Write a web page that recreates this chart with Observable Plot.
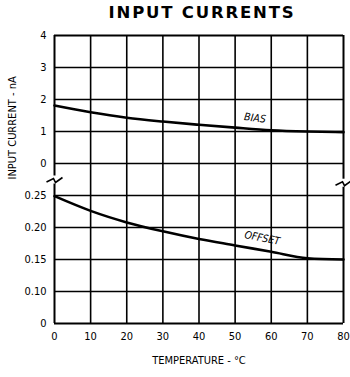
<!DOCTYPE html>
<html><head><meta charset="utf-8">
<script src="https://cdn.jsdelivr.net/npm/d3@7"></script>
<script src="https://cdn.jsdelivr.net/npm/@observablehq/plot@0.6"></script>
<style>
html,body{margin:0;padding:0;background:#fff;}
body{width:350px;height:377px;overflow:hidden;}
#title{height:26px;box-sizing:border-box;padding-top:4px;line-height:18px;text-align:center;font-family:"DejaVu Sans";font-weight:bold;font-size:16.5px;letter-spacing:1.8px;padding-left:54px;color:#000;white-space:nowrap;}
#chart svg{display:block;}
</style></head><body>
<div id="title">INPUT CURRENTS</div>
<div id="chart"></div>
<script>
// Data
const temperature = [0, 10, 20, 30, 40, 50, 60, 70, 80];
const biasCurrent = [1.81, 1.60, 1.43, 1.31, 1.21, 1.12, 1.04, 1.00, 0.98];      // nA, upper panel
const offsetCurrent = [0.249, 0.226, 0.208, 0.194, 0.182, 0.172, 0.162, 0.152, 0.150]; // nA, lower panel
const xTicks = [0, 10, 20, 30, 40, 50, 60, 70, 80];
const upperTicks = [0, 1, 2, 3, 4];
const lowerTicks = [0, 0.10, 0.15, 0.20, 0.25];
const upperTickLabels = ["0", "1", "2", "3", "4"];
const lowerTickLabels = ["0", "0.10", "0.15", "0.20", "0.25"];
const seriesLabels = [
  {name: "BIAS", t: 55.5, v: 1.42, panel: "upper", angle: 7},
  {name: "OFFSET", t: 57.5, v: 0.1835, panel: "lower", angle: 11}
];

// Broken axis: lower panel (offset) occupies grid rows 0..4, upper panel (bias) rows 5..9
const lowerRow = d3.scaleLinear().domain([0, 0.10, 0.25]).range([0, 1, 4]);
const upperRow = d3.scaleLinear().domain([0, 4]).range([5, 9]);
const breakRow = 4.5;

const rows = [...lowerTicks.map(lowerRow), ...upperTicks.map(upperRow)];
const rowLabels = [...lowerTickLabels, ...upperTickLabels];
const labelOfRow = new Map(rows.map((r, i) => [r, rowLabels[i]]));

const bias = temperature.map((t, i) => ({t, row: upperRow(biasCurrent[i])}));
const offset = temperature.map((t, i) => ({t, row: lowerRow(offsetCurrent[i])}));
const labels = seriesLabels.map(d => ({...d, row: d.panel === "upper" ? upperRow(d.v) : lowerRow(d.v)}));

const zigzag = {
  draw(ctx, size) {
    ctx.moveTo(-8, 2.5);
    ctx.lineTo(-1, -1);
    ctx.lineTo(1, 3);
    ctx.lineTo(8, -2);
  }
};
const breakBox = {
  draw(ctx) { ctx.rect(-3, -4, 6, 8); }
};

const innerRows = rows.filter(r => r !== 0 && r !== 9);
const innerX = xTicks.filter(x => x !== 0 && x !== 80);

const chart = Plot.plot({
  width: 350,
  height: 351,
  marginLeft: 54,
  marginRight: 7,
  marginTop: 9,
  marginBottom: 54,
  style: {fontFamily: "'DejaVu Sans Condensed', 'DejaVu Sans'", fontSize: "11px", background: "white", color: "black"},
  x: {domain: [0, 80], ticks: xTicks, tickSize: 0, tickPadding: 9, label: null, tickFormat: d => String(d)},
  y: {domain: [0, 9], ticks: rows, tickSize: 0, tickPadding: 8, label: null, tickFormat: r => labelOfRow.get(r)},
  marks: [
    Plot.ruleX(innerX, {y1: 0, y2: 9, stroke: "black", strokeWidth: 1.6}),
    Plot.ruleY(innerRows, {x1: 0, x2: 80, stroke: "black", strokeWidth: 1.6}),
    Plot.ruleX([0, 80], {y1: 0, y2: 9, stroke: "black", strokeWidth: 2}),
    Plot.ruleY([0, 9], {x1: 0, x2: 80, stroke: "black", strokeWidth: 2}),
    Plot.dot([{t: 0, row: breakRow}, {t: 80, row: breakRow - 0.1}], {x: "t", y: "row", symbol: breakBox, fill: "white", stroke: null, r: 4}),
    Plot.dot([{t: 0, row: breakRow}, {t: 80, row: breakRow - 0.1}], {x: "t", y: "row", symbol: zigzag, fill: "none", stroke: "black", strokeWidth: 1.6, r: 4}),
    Plot.line(bias, {x: "t", y: "row", curve: "monotone-x", stroke: "black", strokeWidth: 2.6}),
    Plot.line(offset, {x: "t", y: "row", curve: "monotone-x", stroke: "black", strokeWidth: 2.6}),
    Plot.text(labels, {x: "t", y: "row", text: "name", rotate: "angle", fontStyle: "italic", fontSize: 10.5, fill: "black"}),
    Plot.text(["TEMPERATURE - °C"], {frameAnchor: "bottom", dy: 40, fontSize: 11, fill: "black"}),
    Plot.text(["INPUT CURRENT - nA"], {frameAnchor: "left", dx: -42, rotate: -90, fontSize: 11, fill: "black"})
  ]
});
document.getElementById("chart").appendChild(chart);
</script>
</body></html>
